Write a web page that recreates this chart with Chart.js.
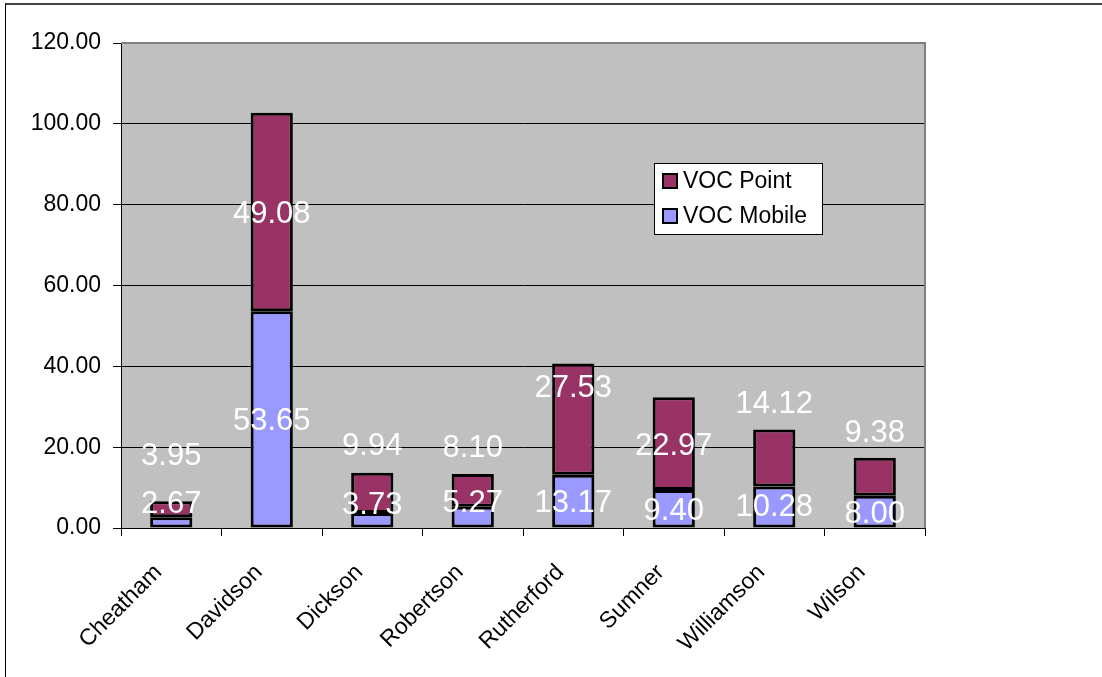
<!DOCTYPE html>
<html>
<head>
<meta charset="utf-8">
<title>VOC emissions by county</title>
<style>
  html, body { margin: 0; padding: 0; background: #fff; }
  #wrap { position: relative; width: 1102px; height: 677px; overflow: hidden; }
  #c { position: absolute; left: 0; top: 0; }
  #frame { position: absolute; left: 5px; top: 3px; right: -4px; bottom: -4px;
           border-left: 1px solid #000; border-top: 2px solid #444; pointer-events: none; }
</style>
<script src="https://cdn.jsdelivr.net/npm/chart.js@4/dist/chart.umd.min.js"></script>
</head>
<body>
<div id="wrap">
  <canvas id="c" width="1102" height="677"></canvas>
  <div id="frame"></div>
</div>
<script>
// Counties and their VOC emissions (tons per day)
const counties = ['Cheatham', 'Davidson', 'Dickson', 'Robertson', 'Rutherford', 'Sumner', 'Williamson', 'Wilson'];
const vocMobile = [2.67, 53.65, 3.73, 5.27, 13.17, 9.40, 10.28, 8.00];
const vocPoint  = [3.95, 49.08, 9.94, 8.10, 27.53, 22.97, 14.12, 9.38];
const yTickValues = [0, 20, 40, 60, 80, 100, 120];

// Vertical nudges (px) for value labels that would otherwise collide
const mobileLabelShift = [-20, 0, -17, -16, 0, 0, -2, 0];
const pointLabelShift  = [-55, 0, -49, -44, -33, 0, -56, -46];

const FONT = '"Liberation Sans", Arial, sans-serif';

// Gray plot area with its border
const plotArea = {
  id: 'plotArea',
  beforeDraw(chart) {
    const { ctx, chartArea: a } = chart;
    ctx.save();
    ctx.fillStyle = '#C0C0C0';
    ctx.fillRect(a.left, a.top, a.right - a.left, a.bottom - a.top);
    ctx.restore();
  },
  beforeDatasetsDraw(chart) {
    const { ctx, chartArea: a } = chart;
    ctx.save();
    ctx.strokeStyle = '#808080';
    ctx.lineWidth = 2;
    ctx.beginPath();
    ctx.moveTo(a.left, a.top);
    ctx.lineTo(a.right, a.top);
    ctx.lineTo(a.right, a.bottom);
    ctx.stroke();
    ctx.restore();
  }
};

// Value labels centred on each bar segment
const segmentValues = {
  id: 'segmentValues',
  afterDatasetsDraw(chart, args, opts) {
    const ctx = chart.ctx;
    const size = opts.size;
    ctx.save();
    ctx.font = size + 'px ' + FONT;
    ctx.fillStyle = '#fff';
    ctx.textAlign = 'center';
    ctx.textBaseline = 'alphabetic';
    chart.data.datasets.forEach((ds, di) => {
      const meta = chart.getDatasetMeta(di);
      const shift = opts.shifts[di];
      meta.data.forEach((bar, i) => {
        const cy = (bar.y + bar.base) / 2 + shift[i];
        ctx.fillText(ds.data[i].toFixed(2), bar.x, cy + 0.358 * size);
      });
    });
    ctx.restore();
  }
};

// Boxed legend placed inside the plot area
const boxLegend = {
  id: 'boxLegend',
  afterDraw(chart, args, opts) {
    const ctx = chart.ctx;
    const { x, y, w, h, order, rowH, font } = opts;
    ctx.save();
    ctx.fillStyle = '#fff';
    ctx.fillRect(x, y, w, h);
    ctx.strokeStyle = '#000';
    ctx.lineWidth = 1;
    ctx.strokeRect(x + 0.5, y + 0.5, w, h);
    ctx.font = font + 'px ' + FONT;
    ctx.textBaseline = 'middle';
    ctx.textAlign = 'left';
    order.forEach((di, k) => {
      const ds = chart.data.datasets[di];
      const cy = y + 18 + k * rowH;
      ctx.fillStyle = ds.backgroundColor;
      ctx.fillRect(x + 9, cy - 7, 14, 14);
      ctx.strokeStyle = '#000';
      ctx.lineWidth = 2;
      ctx.strokeRect(x + 9, cy - 7, 14, 14);
      ctx.fillStyle = '#000';
      ctx.fillText(ds.label, x + 29, cy + 1);
    });
    ctx.restore();
  }
};

new Chart(document.getElementById('c'), {
  type: 'bar',
  data: {
    labels: counties,
    datasets: [
      { label: 'VOC Mobile', data: vocMobile, backgroundColor: '#9999FF',
        borderColor: '#000', borderWidth: 3, borderSkipped: false,
        barPercentage: 0.42, categoryPercentage: 1 },
      { label: 'VOC Point', data: vocPoint, backgroundColor: '#993366',
        borderColor: '#000', borderWidth: 3, borderSkipped: false,
        barPercentage: 0.42, categoryPercentage: 1 }
    ]
  },
  plugins: [plotArea, segmentValues, boxLegend],
  options: {
    responsive: false,
    animation: false,
    layout: { padding: { left: 0, right: 177, top: 43, bottom: 0 } },
    plugins: {
      legend: { display: false },
      tooltip: { enabled: false },
      segmentValues: { size: 31, shifts: [mobileLabelShift, pointLabelShift] },
      boxLegend: { x: 654, y: 163, w: 168, h: 71, rowH: 35, font: 23, order: [1, 0] }
    },
    scales: {
      x: {
        stacked: true,
        offset: true,
        grid: { display: true, drawOnChartArea: false, drawTicks: true, tickLength: 8,
                color: '#000', tickColor: '#000', offset: true },
        border: { display: true, color: '#000', width: 1 },
        ticks: { autoSkip: false, maxRotation: 45, minRotation: 45, padding: 23, labelOffset: -13,
                 color: '#000', font: { family: FONT, size: 23 } },
        afterFit(s) { s.height = 149; }
      },
      y: {
        stacked: true,
        min: 0,
        max: 120,
        afterBuildTicks(s) { s.ticks = yTickValues.map(v => ({ value: v })); },
        grid: { color: c => (c.tick && c.tick.value === 120) ? 'rgba(0,0,0,0)' : '#000',
                tickColor: '#000', tickLength: 8, drawTicks: true },
        border: { display: true, color: '#000', width: 1 },
        ticks: { padding: 12, color: '#000', font: { family: FONT, size: 23 },
                 callback: v => Number(v).toFixed(2) },
        afterFit(s) { s.width = 121; }
      }
    }
  }
});
</script>
</body>
</html>
